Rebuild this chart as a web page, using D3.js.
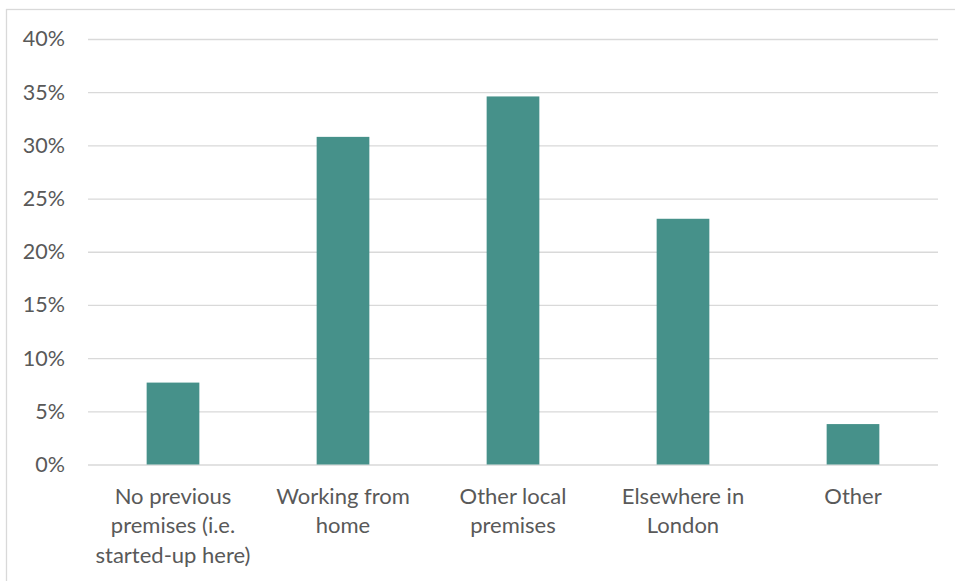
<!DOCTYPE html>
<html>
<head>
<meta charset="utf-8">
<script src="https://cdn.jsdelivr.net/npm/d3@7"></script>
<style>
html,body{margin:0;padding:0;background:#fff;}
svg{display:block;}
</style>
</head>
<body>
<svg id="chart" width="955" height="581"></svg>
<script>
const categories = [
  ["No previous", "premises (i.e.", "started-up here)"],
  ["Working from", "home"],
  ["Other local", "premises"],
  ["Elsewhere in", "London"],
  ["Other"]
];
const values = [7.7, 30.8, 34.6, 23.1, 3.8];
const yTicks = [0, 5, 10, 15, 20, 25, 30, 35, 40];

const svg = d3.select("#chart");
const W = 955, H = 581;
const margin = {left: 88, right: 17, top: 39, bottom: 116.5};
const font = "Lato, 'Open Sans', sans-serif";
const textColor = "#595959";
const gridColor = "#D9D9D9";

svg.append("rect").attr("x", 6.5).attr("y", 9.5).attr("width", W + 10).attr("height", H + 10)
  .attr("fill", "#fff").attr("stroke", gridColor).attr("stroke-width", 1.3);

const x = d3.scaleBand().domain(d3.range(categories.length))
  .range([margin.left, W - margin.right]).paddingInner(0.69).paddingOuter(0.345);
const y = d3.scaleLinear().domain([0, 40]).range([H - margin.bottom, margin.top]);

const g = svg.append("g");
const yAxis = d3.axisLeft(y).tickValues(yTicks).tickFormat(d => d + "%")
  .tickSize(-(W - margin.right - margin.left)).tickPadding(23);
const ya = g.append("g").attr("transform", `translate(${margin.left},0)`).call(yAxis);
ya.select(".domain").remove();
ya.selectAll(".tick line").attr("stroke", gridColor).attr("stroke-width", 1.3);
ya.selectAll(".tick text").attr("fill", textColor).style("font-family", font).style("font-size", "21.5px");

g.selectAll(".bar").data(values).enter().append("rect")
  .attr("class", "bar")
  .attr("x", (d, i) => x(i))
  .attr("width", x.bandwidth())
  .attr("y", d => y(d))
  .attr("height", d => y(0) - y(d))
  .attr("fill", "#46918A");

const xa = g.append("g");
categories.forEach((lines, i) => {
  const cx = x(i) + x.bandwidth() / 2;
  const t = xa.append("text").attr("x", cx).attr("y", y(0) + 39)
    .attr("text-anchor", "middle").attr("fill", textColor)
    .style("font-family", font).style("font-size", "22px");
  lines.forEach((l, j) => {
    t.append("tspan").attr("x", cx).attr("dy", j === 0 ? 0 : 29.5).text(l);
  });
});
</script>
</body>
</html>
